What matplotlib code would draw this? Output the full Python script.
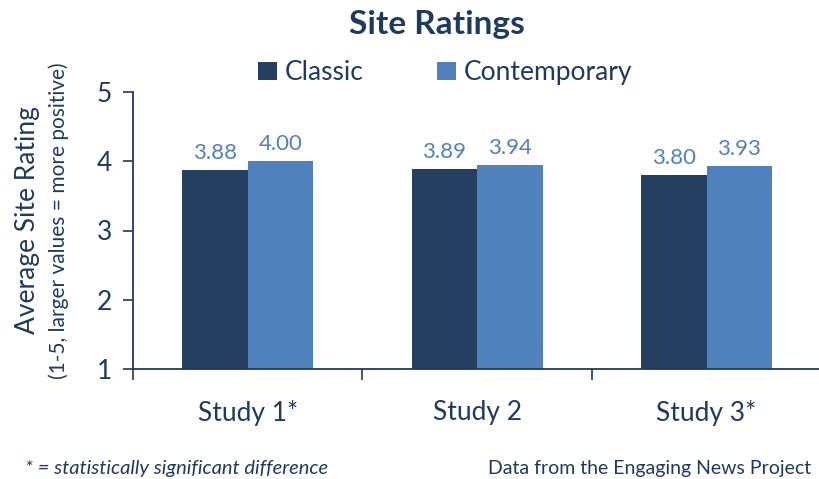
import numpy as np
import matplotlib
matplotlib.use('Agg')
import matplotlib.pyplot as plt
from matplotlib.ticker import FixedLocator

plt.rcParams['font.family'] = ['Lato', 'DejaVu Sans']

studies = ['Study 1*', 'Study 2', 'Study 3*']
classic = [3.88, 3.89, 3.80]
contemporary = [4.00, 3.94, 3.93]

navy = '#243F60'
blue = '#4F81BD'
text_col = '#1F3A5F'

fig = plt.figure(figsize=(8.19, 4.79), dpi=100)
ax = fig.add_axes([133/819, 1 - 369/479, 1 - 133/819, (369 - 92)/479])

x = np.arange(len(studies))
w = 0.285
ax.bar(x - w/2, np.array(classic) - 1, w, bottom=1, color=navy, label='Classic')
ax.bar(x + w/2, np.array(contemporary) - 1, w, bottom=1, color=blue, label='Contemporary')

for i in range(len(studies)):
    ax.text(x[i] - w/2, classic[i] + 0.1, '%.2f' % classic[i], ha='center', va='bottom',
            color=blue, fontsize=16)
    ax.text(x[i] + w/2, contemporary[i] + 0.1, '%.2f' % contemporary[i], ha='center', va='bottom',
            color=blue, fontsize=16)

ax.set_ylim(1, 5)
ax.set_xlim(-0.5, 2.49)
ax.set_yticks([1, 2, 3, 4, 5])
ax.tick_params(axis='y', colors=text_col, labelsize=19, length=7, width=1.2, pad=8)
ax.set_xticks(x)
ax.set_xticklabels(studies)
ax.tick_params(axis='x', colors=text_col, labelsize=19, length=0, pad=22)
ax.xaxis.set_minor_locator(FixedLocator([-0.5, 0.5, 1.5]))
ax.tick_params(axis='x', which='minor', length=8, width=1.2, color=text_col)

for s in ['top', 'right']:
    ax.spines[s].set_visible(False)
for s in ['left', 'bottom']:
    ax.spines[s].set_color(text_col)
    ax.spines[s].set_linewidth(1.3)

fig.text(0.534, 0.948, 'Site Ratings', ha='center', va='center', fontsize=24,
         fontweight='bold', color=text_col)

fig.text(0.033, 0.54, 'Average Site Rating', rotation=90, ha='center', va='center',
         fontsize=19, color=text_col)
fig.text(0.072, 0.54, '(1-5, larger values = more positive)', rotation=90, ha='center',
         va='center', fontsize=15, color=text_col)

ax.legend(loc='center', bbox_to_anchor=(0.455, 1.07), ncol=2, frameon=False,
          fontsize=19, labelcolor=text_col, handlelength=0.7, handleheight=0.7,
          handletextpad=0.3, columnspacing=2.8)

fig.text(0.03, 0.005, '* = statistically significant difference', ha='left', va='bottom',
         fontsize=14.5, style='italic', color=text_col)
fig.text(0.99, 0.005, 'Data from the Engaging News Project', ha='right', va='bottom',
         fontsize=14, color=text_col)

fig.savefig('out.png', dpi=100)
